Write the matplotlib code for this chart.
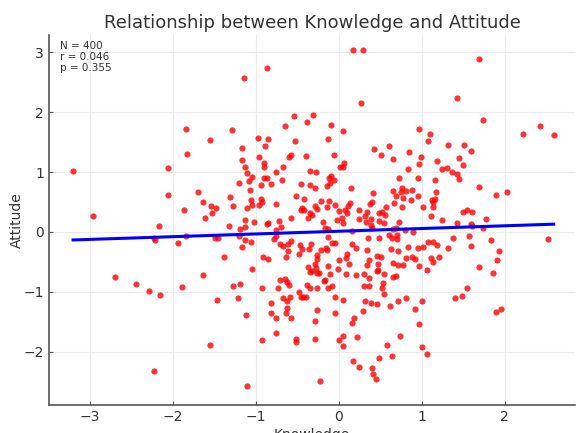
import numpy as np
import matplotlib
matplotlib.use('Agg')
import matplotlib.pyplot as plt

# knowledge / attitude scores
knowledge = [
    -1.835, -1.55, -1.83, 0.177, 0.29, -0.86, -1.145, 0.265, -0.54, -0.31,
    -0.38, -0.65, -0.09, -1.285, 0.057, -0.976, -0.85, -0.53, -0.13, -0.89,
    -1.16, 0.425, 0.6, 0.51, 0.66, -0.06, -0.40, -0.58, -0.60, -0.96,
    -1.16, 1.69, 1.43, 1.74, 0.97, 1.10, 1.08, 1.32, 1.51, 1.59,
    0.85, 0.99, 1.45, 2.22, 2.43, 2.59,
    -3.20, -2.06, -2.06, -1.70, -1.64, -1.54, -1.48, -1.53, -1.61, -1.87,
    -1.31, -2.955, -2.16, -1.325, -2.225, -2.21, -1.835, -1.94, -1.49, -1.45,
    -1.385, -2.695, -1.635,
    -0.90, -0.895, -1.13, -0.67, 0.06, 0.012, 0.05, -0.35, -0.27, -0.755,
    -1.11, -1.05, -0.895, -0.86, -0.68, -0.09, -0.06, -0.12, -1.08, -1.20,
    -0.94, -0.815, -0.45, -0.34, -0.28, -0.14, -0.10, -1.07, 0.15, 0.41,
    0.65, -1.27, -1.06, -1.04, -0.94, -0.92, -0.96, -1.10, -0.75, -0.52,
    -0.42, -0.44, -0.46, -0.42, -0.285, -0.265, -0.345, -0.32, -0.365, -0.21,
    -0.12, -0.05, -0.14, 0.004, 0.07, 0.11, 0.14, 0.105, 0.25, 0.245,
    0.34, 0.38, 0.40, 0.48, 0.52, 0.575, 0.67, 0.32, 0.385, 0.33,
    0.39, 0.56, 0.48, 0.545, 0.405, 0.65, 0.69, 0.73, 0.036, -0.02,
    0.048, -0.19, -0.16, -0.13, -0.87, -0.855, -0.72, -0.69, -0.75, -0.58,
    -1.125, -1.02, -1.13, -1.195, 0.16,
    -1.20, -1.125, -1.06, -1.17, -0.78, -0.76, -0.57, -0.71, -0.67, -0.61,
    -0.61, -0.64, -0.47, -0.44, -0.33, -0.36, -0.48, -0.265, -0.26, -0.21,
    -0.15, -0.145, -0.13, -0.08, -0.05, -0.29, -0.365, -0.32, -0.27, -0.24,
    -0.13, 0.0, -0.008, 0.10, 0.084, 0.12, 0.088, 0.21, 0.30, 0.34,
    0.37, 0.47, 0.47, 0.466, 0.51, 0.49, 0.60, 0.64, 0.70, 0.63,
    0.353, 0.34, 0.21, 0.165, -0.91, -0.85, -1.04, 0.66,
    1.19, 1.50, 0.964, 0.835, 1.24, 1.30, 1.36, 1.43, 1.445, 0.73,
    0.95, 1.16, 1.695, 2.03, 1.89, 0.76, 0.75, 0.815, 0.88, 1.17,
    0.69, 0.78, 0.87, 0.95, 1.12, 1.165, 1.14, 0.76, 1.01, 1.14,
    1.50, 1.54, 1.61, 1.11, 1.24, 1.77, 1.43, 1.59, 1.61, 1.74,
    0.795, 0.90, 0.70, 1.38, 1.575, 1.83, 2.52, 1.59, 1.32, 1.07,
    1.14, 1.18, 1.02, 0.96, 0.84, 0.72, 1.935, 1.91, 1.205, 1.11,
    1.13, 0.88, 0.915, 0.81, 0.65, 0.71, 0.78, 0.97, 1.06, 1.69,
    1.86, 0.69,
    -2.44, -2.285, -2.15, -1.89, -1.47, -1.55, -2.23,
    -1.27, -1.19, -1.21, -1.12, -0.92, -0.71, -0.65, -0.62, -0.605, -0.735,
    -0.48, -0.81, -0.675, -0.62, -0.585, -0.46, -0.43, -0.40, -0.38, -0.34,
    -0.265, -0.34, -0.26, -0.18, -0.165, -0.11, -0.076, -0.124, -0.045, 0.05,
    0.37, 0.46, 0.545, 0.535, 0.30, 0.37, 0.52, 0.545, 0.32, 0.39,
    0.46, 0.62, 0.715, -0.62, -0.64, -0.58, -0.82, -0.75, -0.265, -0.29,
    -0.045, 0.29, 0.18, 0.16, -0.75, -0.92, -0.51, -0.51, -0.285, 0.004,
    0.05, 0.05, 0.22, 0.735, 0.58, 0.49, 0.64, 0.17, 0.24, 0.405,
    0.41, 0.445, -0.22, -1.11,
    1.55, 1.40, 1.48, 0.81, 1.00, 0.92, 1.895, 1.96, 0.97, 1.00, 1.06,
]
attitude = [
    1.72, 1.54, 1.30, 3.04, 3.04, 2.74, 2.57, 2.16, 1.94, 1.96,
    1.83, 1.77, 1.78, 1.71, 1.68, 1.57, 1.555, 1.52, 1.55, 1.44,
    1.40, 1.38, 1.44, 1.28, 1.215, 1.28, 1.27, 1.29, 1.25, 1.25,
    1.20, 2.89, 2.24, 1.87, 1.72, 1.64, 1.52, 1.46, 1.45, 1.35,
    1.33, 1.25, 1.24, 1.64, 1.77, 1.62,
    1.02, 1.06, 0.62, 0.66, 0.50, 0.44, 0.40, 0.31, 0.24, 0.37,
    0.585, 0.26, 0.105, 0.10, -0.105, -0.13, -0.07, -0.19, -0.095, -0.105,
    -0.42, -0.76, -0.72,
    1.15, 1.08, 1.09, 1.09, 1.16, 1.08, 1.09, 1.015, 1.0, 1.0,
    0.99, 0.925, 0.90, 0.90, 0.875, 0.94, 0.875, 0.90, 0.85, 0.82,
    0.78, 0.80, 0.80, 0.79, 0.735, 0.775, 0.81, 0.70, 0.74, 0.65,
    0.69, 0.44, 0.53, 0.455, 0.55, 0.50, 0.455, 0.40, 0.46, 0.60,
    0.55, 0.40, 0.36, 0.37, 0.435, 0.385, 0.32, 0.285, 0.235, 0.52,
    0.52, 0.455, 0.41, 0.35, 0.36, 0.435, 0.48, 0.31, 0.36, 0.21,
    0.33, 0.47, 0.50, 0.31, 0.33, 0.41, 0.48, 0.26, 0.22, 0.17,
    0.12, 0.28, 0.19, 0.155, 0.06, 0.055, 0.06, 0.17, 0.24, 0.205,
    0.155, 0.16, 0.07, 0.055, 0.13, 0.155, 0.19, 0.09, 0.03, 0.235,
    0.195, 0.17, 0.09, 0.055, 0.017,
    -0.06, -0.13, -0.17, -0.25, -0.115, -0.07, -0.145, -0.20, -0.24, -0.20,
    -0.31, -0.42, -0.21, -0.28, -0.205, -0.28, -0.37, -0.39, -0.445, -0.30,
    -0.27, -0.30, -0.09, -0.18, -0.18, -0.535, -0.58, -0.65, -0.61, -0.68,
    -0.57, -0.475, -0.62, -0.36, -0.435, -0.54, -0.71, -0.72, -0.70, -0.56,
    -0.47, -0.535, -0.635, -0.395, -0.42, -0.105, -0.05, -0.105, -0.12, -0.29,
    -0.105, -0.295, -0.27, -0.20, -0.41, -0.445, -0.62, -0.76,
    1.19, 1.125, 1.13, 1.05, 1.05, 1.065, 1.0, 0.96, 0.89, 0.90,
    0.90, 0.875, 0.75, 0.67, 0.61, 0.73, 0.675, 0.68, 0.70, 0.675,
    0.60, 0.575, 0.54, 0.60, 0.53, 0.55, 0.50, 0.41, 0.42, 0.42,
    0.34, 0.36, 0.33, 0.26, 0.195, 0.21, 0.145, 0.13, 0.095, 0.07,
    0.03, 0.005, -0.045, -0.105, -0.06, -0.135, -0.12, -0.235, -0.27, -0.17,
    -0.17, -0.22, -0.245, -0.26, -0.255, -0.32, -0.32, -0.475, -0.42, -0.43,
    -0.51, -0.42, -0.45, -0.44, -0.525, -0.545, -0.545, -0.575, -0.635, -0.585,
    -0.68, -0.73,
    -0.87, -0.99, -1.06, -0.915, -1.13, -1.89, -2.32,
    -0.90, -0.875, -1.10, -1.38, -0.93, -0.81, -0.79, -0.83, -0.89, -0.93,
    -1.0, -1.19, -1.10, -1.155, -1.08, -1.08, -1.09, -1.09, -0.89, -0.94,
    -0.94, -0.67, -0.685, -0.82, -0.80, -0.70, -0.90, -0.94, -1.08, -1.14,
    -0.775, -0.66, -0.71, -0.86, -0.91, -0.90, -0.94, -1.03, -1.15, -1.19,
    -1.21, -1.23, -1.155, -1.27, -1.36, -1.44, -1.36, -1.43, -1.30, -1.49,
    -1.36, -1.32, -1.44, -1.52, -1.68, -1.81, -1.78, -1.83, -1.79, -1.80,
    -1.74, -1.91, -1.76, -1.73, -1.89, -2.11, -2.07, -2.16, -2.26, -2.27,
    -2.37, -2.45, -2.49, -2.575,
    -0.94, -1.11, -1.075, -1.11, -1.155, -1.29, -1.34, -1.29, -1.53, -1.92, -2.045,
]

# fitted line
slope = 0.0455
intercept = 0.012
stats_text = "N = 400\nr = 0.046\np = 0.355"

x = np.array(knowledge)
y = np.array(attitude)

fig = plt.figure(figsize=(5.77, 4.33), dpi=100)
ax = fig.add_axes([0.085, 0.0647, 0.912, 0.8545])

ax.scatter(x, y, s=20, color='red', alpha=0.8, linewidths=0, zorder=3)
xs = np.array([x.min(), x.max()])
ax.plot(xs, intercept + slope * xs, color='blue', linewidth=2.2, zorder=4)

ax.set_xlim(-3.49, 2.85)
ax.set_ylim(-2.89, 3.29)
ax.set_xticks([-3, -2, -1, 0, 1, 2])
ax.set_yticks([-2, -1, 0, 1, 2, 3])
ax.grid(True, color='#ebebeb', linewidth=0.8, zorder=0)
ax.set_axisbelow(True)

for side in ['top', 'right']:
    ax.spines[side].set_visible(False)
for side in ['left', 'bottom']:
    ax.spines[side].set_color('#555555')
    ax.spines[side].set_linewidth(1.2)
ax.tick_params(direction='in', length=3, colors='#555555', labelcolor='#333333',
               labelsize=10)

ax.set_title('Relationship between Knowledge and Attitude', fontsize=13,
             color='#333333', pad=5)
ax.set_xlabel('Knowledge', fontsize=10, color='#333333', labelpad=3)
ax.set_ylabel('Attitude', fontsize=10, color='#333333', labelpad=0)
ax.text(0.02, 0.985, stats_text, transform=ax.transAxes, fontsize=7.5,
        va='top', ha='left', color='#333333', linespacing=1.15)

fig.savefig('out.png', dpi=100)
